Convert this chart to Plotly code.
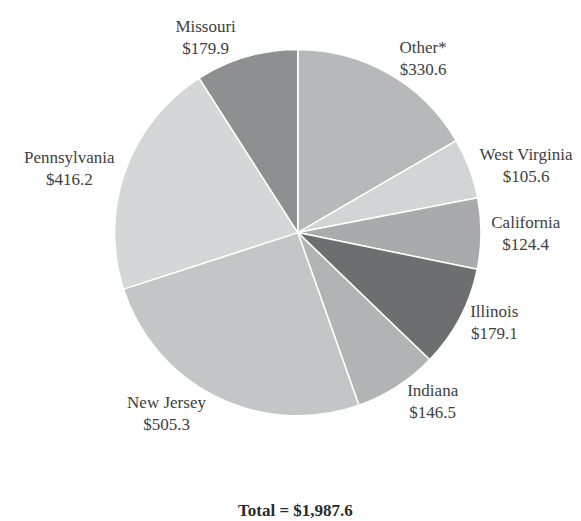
import plotly.graph_objects as go

labels = ["Other*", "West Virginia", "California", "Illinois", "Indiana",
          "New Jersey", "Pennsylvania", "Missouri"]
values = [330.6, 105.6, 124.4, 179.1, 146.5, 505.3, 416.2, 179.9]
colors = ["#b6b8ba", "#d2d4d6", "#a8aaac", "#6c6e70", "#b1b3b5",
          "#c3c5c7", "#d4d6d8", "#8d8f91"]
total_text = "Total = $1,987.6"

fig = go.Figure(go.Pie(
    labels=labels,
    values=values,
    sort=False,
    direction="clockwise",
    rotation=0,
    marker=dict(colors=colors, line=dict(color="white", width=1.5)),
    texttemplate="%{label}<br>$%{value:.1f}",
    textposition="outside",
    textfont=dict(family="Liberation Serif", size=17, color="#404040"),
    domain=dict(x=[0.015, 1.0], y=[0.21, 0.93]),
    showlegend=False,
    hoverinfo="label+value",
))

fig.add_annotation(
    text="<b>" + total_text + "</b>",
    x=0.5, y=0.036, xref="paper", yref="paper", showarrow=False,
    yanchor="middle",
    font=dict(family="Liberation Serif", size=17, color="#2a2a2a"),
)

fig.update_layout(
    width=581, height=521,
    margin=dict(l=0, r=0, t=0, b=0),
    paper_bgcolor="white", plot_bgcolor="white",
)
fig.write_html("out.html")
